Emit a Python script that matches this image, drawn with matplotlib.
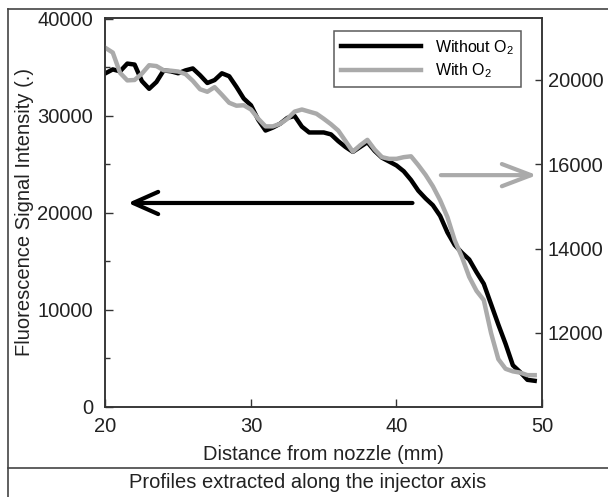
import matplotlib
matplotlib.use("Agg")
import matplotlib.pyplot as plt
from matplotlib.lines import Line2D
from matplotlib.ticker import FixedLocator, FixedFormatter, MultipleLocator

plt.rcParams['font.family'] = ['Liberation Sans', 'DejaVu Sans']
plt.rcParams['mathtext.fontset'] = 'custom'
plt.rcParams['mathtext.rm'] = 'Liberation Sans'
plt.rcParams['mathtext.default'] = 'regular'

# distance from nozzle (mm), 0.5 mm steps
distance = [20.0, 20.5, 21.0, 21.5, 22.0, 22.5, 23.0, 23.5, 24.0, 24.5,
            25.0, 25.5, 26.0, 26.5, 27.0, 27.5, 28.0, 28.5, 29.0, 29.5,
            30.0, 30.5, 31.0, 31.5, 32.0, 32.5, 33.0, 33.5, 34.0, 34.5,
            35.0, 35.5, 36.0, 36.5, 37.0, 37.5, 38.0, 38.5, 39.0, 39.5,
            40.0, 40.5, 41.0, 41.5, 42.0, 42.5, 43.0, 43.5, 44.0, 44.5,
            45.0, 45.5, 46.0, 46.5, 47.0, 47.5, 48.0, 48.5, 49.0, 49.5]

# left axis
without_o2 = [34400, 34800, 34600, 35400, 35300, 33600, 32800, 33500, 34700, 34600,
              34400, 34700, 34900, 34200, 33400, 33700, 34400, 34100, 33000, 31800,
              31100, 29600, 28500, 28800, 29200, 29800, 30000, 28900, 28300, 28300,
              28300, 28100, 27400, 26800, 26300, 26800, 27300, 26400, 25700, 25300,
              24900, 24300, 23400, 22300, 21500, 20800, 19700, 18000, 16700, 15900,
              15200, 13900, 12700, 10600, 8500, 6500, 4300, 3600, 2800, 2700]

# right axis
with_o2 = [18760, 18650, 18170, 17990, 18000, 18150, 18350, 18330, 18230, 18220,
           18200, 18140, 17980, 17780, 17720, 17830, 17650, 17460, 17390, 17400,
           17300, 17080, 16900, 16900, 16960, 17080, 17250, 17300, 17250, 17200,
           17080, 16950, 16800, 16550, 16300, 16450, 16580, 16350, 16170, 16130,
           16130, 16170, 16190, 15980, 15750, 15480, 15150, 14750, 14200, 13800,
           13330, 13000, 12780, 12000, 11380, 11150, 11090, 11060, 11000, 11000]

right_ticks = [12000, 14000, 16000, 18000]
right_labels = ["12000", "14000", "16000", "20000"]

GRAY = "#aaaaaa"
SPINE = "#333333"
FS = 14.5

fig = plt.figure(figsize=(6.08, 4.97), dpi=100)
ax = fig.add_axes([0.1735, 0.1811, 0.7179, 0.7827])
ax2 = ax.twinx()

l1, = ax.plot(distance, without_o2, color="black", lw=3.2)
l2, = ax2.plot(distance, with_o2, color=GRAY, lw=3.2)

ax.set_xlim(20, 50)
ax.set_ylim(0, 40100)
ax2.set_ylim(10245, 19470)

ax.xaxis.set_major_locator(MultipleLocator(10))
ax.yaxis.set_major_locator(MultipleLocator(10000))
ax.yaxis.set_minor_locator(MultipleLocator(5000))
ax2.yaxis.set_major_locator(FixedLocator(right_ticks))
ax2.yaxis.set_major_formatter(FixedFormatter(right_labels))

ax.tick_params(axis="y", which="major", direction="in", length=6, width=1, color=SPINE,
               labelsize=FS, pad=9, labelcolor="#222222", right=False)
ax.tick_params(axis="y", which="minor", direction="in", length=3.5, width=1, color=SPINE,
               right=False)
ax.tick_params(axis="x", which="both", direction="in", length=6, width=1, color=SPINE,
               labelsize=FS, pad=7, labelcolor="#222222", top=False)
ax2.tick_params(axis="y", direction="in", length=5, width=1, color=SPINE,
                labelsize=FS, pad=4, labelcolor="#222222", left=False)
for a in (ax, ax2):
    for s in a.spines.values():
        s.set_color(SPINE)
        s.set_linewidth(1.1)

ax.set_xlabel("Distance from nozzle (mm)", fontsize=FS, color="#222222", labelpad=7)
ax.set_ylabel("Fluorescence Signal Intensity (.)", fontsize=FS, color="#222222", labelpad=2)

# arrows pointing to the axis each curve belongs to
ax.annotate("", xy=(21.55, 21030), xytext=(41.1, 21030),
            arrowprops=dict(arrowstyle="->,head_length=1.8,head_width=0.8",
                            color="black", lw=3, shrinkA=0, shrinkB=0, mutation_scale=10))
ax.annotate("", xy=(49.65, 23900), xytext=(43.05, 23900),
            arrowprops=dict(arrowstyle="->,head_length=2.1,head_width=0.8",
                            color=GRAY, lw=3, shrinkA=0, shrinkB=0, mutation_scale=10))

leg = ax2.legend([l1, l2], ["Without O$_2$", "With O$_2$"], loc="upper right",
                 bbox_to_anchor=(0.952, 0.967), borderaxespad=0, fontsize=11.5,
                 fancybox=False, handlelength=5.0, borderpad=0.45, labelspacing=0.3,
                 handletextpad=0.85)
leg.get_frame().set_edgecolor(SPINE)
leg.get_frame().set_linewidth(1.1)

fig.text(0.5 * (8 + 608) / 608, 1 - 483 / 497, "Profiles extracted along the injector axis",
         ha="center", va="center", fontsize=FS, color="#222222")

# outer frame and caption separator
W, H = 608, 497
frame = dict(color="#444444", lw=1.2)
fig.add_artist(Line2D([8 / W, 8 / W], [0, 1 - 9 / H], **frame))
fig.add_artist(Line2D([8 / W, 1], [1 - 9 / H, 1 - 9 / H], **frame))
fig.add_artist(Line2D([8 / W, 1], [1 - 468 / H, 1 - 468 / H], **frame))

fig.savefig("out.png", dpi=100)
